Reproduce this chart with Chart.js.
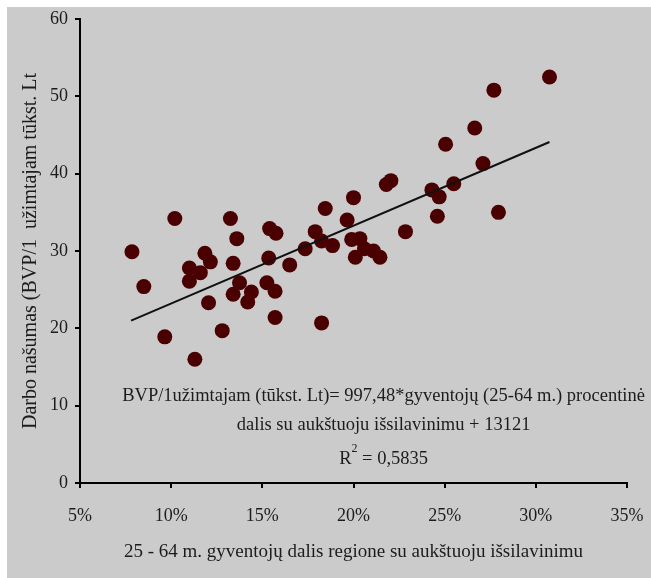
<!DOCTYPE html>
<html>
<head>
<meta charset="utf-8">
<script src="https://cdn.jsdelivr.net/npm/chart.js@4.4.0/dist/chart.umd.min.js"></script>
<style>
  html, body { margin: 0; padding: 0; background: #fff; }
  #wrap { width: 651px; height: 578px; }
</style>
</head>
<body>
<div id="wrap"><canvas id="chart" width="651" height="578"></canvas></div>
<script>
// Share of 25-64 year olds with higher education (%), per region
const shareHigherEd = [
  7.85, 8.5, 9.65, 10.2, 11.3, 11.0, 11.0, 11.6, 11.85, 12.15,
  12.05, 12.8, 13.25, 13.6, 13.4, 13.75, 13.4, 14.2, 14.4, 15.4,
  15.75, 15.35, 15.25, 15.7, 15.7, 16.5, 17.35, 17.9, 18.25, 18.45,
  18.25, 18.85, 19.65, 20.0, 19.9, 20.35, 20.1, 20.6, 21.1, 21.45,
  21.8, 22.05, 22.85, 24.3, 24.7, 24.6, 25.05, 25.5, 26.65, 27.1,
  27.7, 27.95, 30.75
];
// Labour productivity (GDP per employed, thous. Lt)
const productivity = [
  29.9, 25.4, 18.9, 34.2, 16.0, 27.8, 26.1, 27.2, 29.7, 28.6,
  23.3, 19.7, 34.2, 31.6, 28.4, 25.9, 24.4, 23.4, 24.7, 32.9,
  32.3, 29.1, 25.9, 24.8, 21.4, 28.2, 30.3, 32.5, 31.3, 35.5,
  20.7, 30.7, 34.0, 36.9, 31.5, 31.6, 29.2, 30.3, 30.0, 29.2,
  38.6, 39.1, 32.5, 37.9, 37.0, 34.5, 43.8, 38.7, 45.9, 41.3,
  50.8, 35.0, 52.5
];
// Linear trend line end points
const trendX = [7.8, 30.75];
const trendY = [21.0, 44.1];

const xTitle = '25 - 64 m. gyventojų dalis regione su aukštuoju išsilavinimu';
const yTitle = 'Darbo našumas (BVP/1  užimtajam tūkst. Lt';
const eqLine1 = 'BVP/1užimtajam (tūkst. Lt)= 997,48*gyventojų (25-64 m.) procentinė';
const eqLine2 = 'dalis su aukštuoju išsilavinimu + 13121';
const r2Text = ' = 0,5835';

const FONT = "'Liberation Serif', 'Times New Roman', serif";
const TEXT_COLOR = '#1c1c1c';

const points = shareHigherEd.map((x, i) => ({ x: x, y: productivity[i] }));
const trend = trendX.map((x, i) => ({ x: x, y: trendY[i] }));

// gray panel behind the whole chart (white strip on top and left)
const panelBg = {
  id: 'panelBg',
  beforeDraw(chart) {
    const ctx = chart.ctx;
    ctx.save();
    ctx.fillStyle = '#ffffff';
    ctx.fillRect(0, 0, chart.width, chart.height);
    ctx.fillStyle = '#cbcbcb';
    ctx.fillRect(7, 7, chart.width - 7, chart.height - 7);
    ctx.restore();
  }
};

// regression equation text inside the plot
const equation = {
  id: 'equation',
  afterDatasetsDraw(chart) {
    const ctx = chart.ctx;
    const cx = chart.scales.x.getPixelForValue(21.65);
    const y0 = chart.scales.y.getPixelForValue(0);
    const big = '18.5px ' + FONT;
    const small = '12px ' + FONT;
    ctx.save();
    ctx.fillStyle = TEXT_COLOR;
    ctx.font = big;
    ctx.textAlign = 'center';
    ctx.textBaseline = 'middle';
    ctx.fillText(eqLine1, cx, y0 - 87);
    ctx.fillText(eqLine2, cx, y0 - 58);

    // R² with a raised 2
    const wR = ctx.measureText('R').width;
    const wRest = ctx.measureText(r2Text).width;
    ctx.font = small;
    const w2 = ctx.measureText('2').width;
    let x = cx - (wR + w2 + wRest) / 2;
    ctx.textAlign = 'left';
    ctx.font = big;
    ctx.fillText('R', x, y0 - 24);
    x += wR;
    ctx.font = small;
    ctx.fillText('2', x, y0 - 34);
    x += w2;
    ctx.font = big;
    ctx.fillText(r2Text, x, y0 - 24);
    ctx.restore();
  }
};

new Chart(document.getElementById('chart'), {
  type: 'scatter',
  data: {
    datasets: [
      {
        type: 'line',
        data: trend,
        showLine: true,
        borderColor: '#111111',
        borderWidth: 2,
        pointRadius: 0,
        fill: false
      },
      {
        data: points,
        backgroundColor: '#4a0000',
        borderColor: '#4a0000',
        borderWidth: 0,
        pointRadius: 7.5,
        pointHoverRadius: 7.5
      }
    ]
  },
  options: {
    responsive: false,
    devicePixelRatio: 1,
    animation: false,
    events: [],
    layout: { padding: { left: 7, top: 19, right: 24, bottom: 0 } },
    plugins: {
      legend: { display: false },
      tooltip: { enabled: false }
    },
    scales: {
      x: {
        type: 'linear',
        min: 5,
        max: 35,
        afterFit: s => { s.height = 95; s.paddingLeft = 0; s.paddingRight = 0; },
        ticks: {
          stepSize: 5,
          callback: v => v + '%',
          font: { family: FONT, size: 18 },
          color: TEXT_COLOR,
          padding: 17,
          maxRotation: 0
        },
        grid: { drawOnChartArea: false, drawTicks: true, tickLength: 5, color: '#000', lineWidth: 2 },
        border: { color: '#000', width: 2 },
        title: {
          display: true,
          text: xTitle,
          font: { family: FONT, size: 19 },
          color: TEXT_COLOR,
          padding: { top: 0, bottom: 15 }
        }
      },
      y: {
        min: 0,
        max: 60,
        afterFit: s => { s.width = 73; s.paddingTop = 0; s.paddingBottom = 0; },
        ticks: {
          stepSize: 10,
          font: { family: FONT, size: 18 },
          color: TEXT_COLOR,
          padding: 7
        },
        grid: { drawOnChartArea: false, drawTicks: true, tickLength: 5, color: '#000', lineWidth: 2 },
        border: { color: '#000', width: 2 },
        title: {
          display: true,
          text: yTitle,
          font: { family: FONT, size: 20 },
          color: TEXT_COLOR,
          padding: { top: 12, bottom: 0 }
        }
      }
    }
  },
  plugins: [panelBg, equation]
});
</script>
</body>
</html>
